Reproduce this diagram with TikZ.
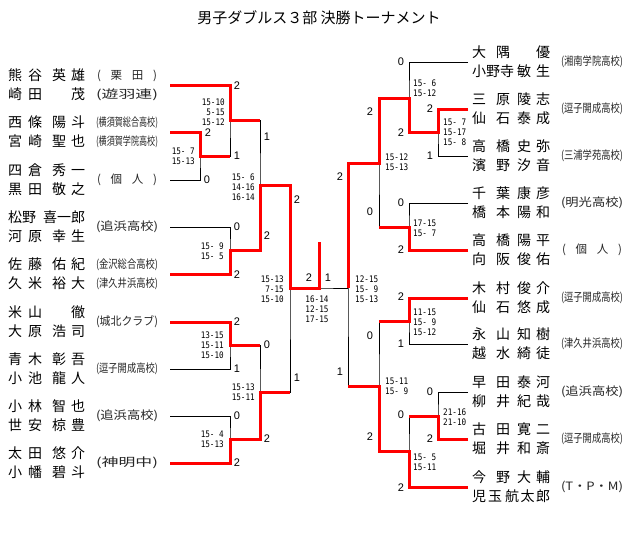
\documentclass[tikz,border=0pt]{standalone}
\usepackage{fontspec}
\usepackage{graphicx}
\newfontfamily\jp{Noto Sans CJK JP}
\newfontfamily\numf{Liberation Sans}
\newfontfamily\scf[FakeStretch=0.85]{DejaVu Sans Mono}
\newsavebox\affbox
\newcommand\nameL[2]{\makebox[34pt][s]{#1}\hspace{10pt}\makebox[33pt][s]{#2}}
\newcommand\nameR[2]{\makebox[38pt][s]{#1}\hspace{7pt}\makebox[33pt][s]{#2}}
\newcommand\affil[1]{\sbox\affbox{(#1)}\pgfmathsetmacro\affx{62/\the\wd\affbox}\scalebox{\affx}[1]{\usebox\affbox}}
\newcommand\affsp[1]{\makebox[60pt][s]{#1}}
\tikzset{
  win/.style={red, line width=3pt, line join=miter},
  lose/.style={black, line width=0.8pt},
  nm/.style={anchor=west, inner sep=0pt, font=\jp\fontsize{14}{14}\selectfont},
  af/.style={inner sep=0pt, text=black!85, font=\jp\fontsize{11.5}{12}\selectfont},
  rs/.style={inner sep=0pt, font=\numf\fontsize{11}{11}\selectfont},
  scL/.style={anchor=east, align=right, inner sep=0pt, font=\scf\fontsize{9}{10}\selectfont},
  scR/.style={anchor=west, align=left, inner sep=0pt, font=\scf\fontsize{9}{10}\selectfont},
  scC/.style={anchor=center, align=center, inner sep=0pt, font=\scf\fontsize{9}{10}\selectfont}
}
\begin{document}
\begin{tikzpicture}[x=1pt,y=-1pt]
\useasboundingbox[fill=white] (0,0) rectangle (640,541);
\node[inner sep=0pt, font=\jp\fontsize{15}{15}\selectfont] (title) at (319,18) {男子ダブルス３部 決勝トーナメント};

% ---------- coordinates ----------
\coordinate (tL1) at (170,85);  \coordinate (tL2) at (170,132); \coordinate (tL3) at (170,180);
\coordinate (tL4) at (170,227); \coordinate (tL5) at (170,274); \coordinate (tL6) at (170,322);
\coordinate (tL7) at (170,369); \coordinate (tL8) at (170,416); \coordinate (tL9) at (170,463);
\coordinate (m1) at (200,156); \coordinate (m2) at (230,120); \coordinate (m3) at (230,250);
\coordinate (m4) at (260,185); \coordinate (m5) at (230,345); \coordinate (m6) at (230,439);
\coordinate (m7) at (260,392); \coordinate (m8) at (290,288);
\coordinate (fin) at (319,288); \coordinate (champ) at (319,242);
\coordinate (tR1) at (468,62);  \coordinate (tR2) at (468,109); \coordinate (tR3) at (468,156);
\coordinate (tR4) at (468,203); \coordinate (tR5) at (468,250); \coordinate (tR6) at (468,298);
\coordinate (tR7) at (468,344); \coordinate (tR8) at (468,392); \coordinate (tR9) at (468,439);
\coordinate (tR10) at (468,487);
\coordinate (n1) at (438,132); \coordinate (n2) at (409,98); \coordinate (n3) at (409,227);
\coordinate (n4) at (379,163); \coordinate (n5) at (409,321); \coordinate (n6) at (438,416);
\coordinate (n7) at (409,451); \coordinate (n8) at (379,386); \coordinate (n9) at (348,288);

% ---------- skeleton ----------
\draw[lose] (tL2) -| (m1) |- (tL3);
\draw[lose] (m1) -| (m2) |- (tL1);
\draw[lose] (tL4) -| (m3) |- (tL5);
\draw[lose] (m2) -| (m4) |- (m3);
\draw[lose] (tL6) -| (m5) |- (tL7);
\draw[lose] (tL8) -| (m6) |- (tL9);
\draw[lose] (m5) -| (m7) |- (m6);
\draw[lose] (m4) -| (m8) |- (m7);
\draw[lose] (m8) -- (fin) -- (n9);
\draw[lose] (tR2) -| (n1) |- (tR3);
\draw[lose] (tR1) -| (n2) |- (n1);
\draw[lose] (tR4) -| (n3) |- (tR5);
\draw[lose] (n2) -| (n4) |- (n3);
\draw[lose] (tR6) -| (n5) |- (tR7);
\draw[lose] (tR8) -| (n6) |- (tR9);
\draw[lose] (n6) -| (n7) |- (tR10);
\draw[lose] (n5) -| (n8) |- (n7);
\draw[lose] (n4) -| (n9) |- (n8);

% ---------- winners ----------
\draw[win] (tL1) -| (m2) -- (m2 -| m4);
\draw[win] (tL2) -| (m1) -- (m1 -| m2);
\draw[win] (tL5) -| (m3) -- (m3 -| m4) -- (m4) -- (m4 -| m8) -- (m8) -- (fin) -- (champ);
\draw[win] (tL6) -| (m5) -- (m5 -| m7);
\draw[win] (tL9) -| (m6) -- (m6 -| m7) -- (m7) -- (m7 -| m8);
\draw[win] (tR2) -| (n1) -- (n1 -| n2) -- (n2) -- (n2 -| n4) -- (n4) -- (n4 -| n9) -- (n9);
\draw[win] (tR5) -| (n3) -- (n3 -| n4);
\draw[win] (tR6) -| (n5) -- (n5 -| n8);
\draw[win] (tR9) -| (n6) -- (n6 -| n7);
\draw[win] (tR10) -| (n7) -- (n7 -| n8) -- (n8) -- (n8 -| n9);

% ---------- left names ----------
\node[nm] (L1a) at (8,75.5) {\nameL{熊\hfill 谷}{英\hfill 雄}};
\node[nm] (L1b) at (8,94.5) {\nameL{崎\hfill 田}{\hfill 茂}};
\node[nm] (L2a) at (8,122.5) {\nameL{西\hfill 條}{陽\hfill 斗}};
\node[nm] (L2b) at (8,141.5) {\nameL{宮\hfill 崎}{聖\hfill 也}};
\node[nm] (L3a) at (8,170.5) {\nameL{四\hfill 倉}{秀\hfill 一}};
\node[nm] (L3b) at (8,189.5) {\nameL{黒\hfill 田}{敬\hfill 之}};
\node[nm] (L4a) at (8,217.5) {\makebox[27pt][s]{松\hfill 野}\hspace{8pt}\makebox[42pt][s]{喜\hfill 一\hfill 郎}};
\node[nm] (L4b) at (8,236.5) {\nameL{河\hfill 原}{幸\hfill 生}};
\node[nm] (L5a) at (8,264.5) {\nameL{佐\hfill 藤}{佑\hfill 紀}};
\node[nm] (L5b) at (8,283.5) {\nameL{久\hfill 米}{裕\hfill 大}};
\node[nm] (L6a) at (8,312.5) {\nameL{米\hfill 山}{\hfill 徹}};
\node[nm] (L6b) at (8,331.5) {\nameL{大\hfill 原}{浩\hfill 司}};
\node[nm] (L7a) at (8,359.5) {\nameL{青\hfill 木}{彰\hfill 吾}};
\node[nm] (L7b) at (8,378.5) {\nameL{小\hfill 池}{龍\hfill 人}};
\node[nm] (L8a) at (8,406.5) {\nameL{小\hfill 林}{智\hfill 也}};
\node[nm] (L8b) at (8,425.5) {\nameL{世\hfill 安}{椋\hfill 豊}};
\node[nm] (L9a) at (8,453.5) {\nameL{太\hfill 田}{悠\hfill 介}};
\node[nm] (L9b) at (8,472.5) {\nameL{小\hfill 幡}{碧\hfill 斗}};

% ---------- left affiliations ----------
\node[af] (A1a) at (127,75.5) {\affsp{(\hfill 栗\hfill 田\hfill )}};
\node[af] (A1b) at (127,94.5) {\affil{遊羽連}};
\node[af] (A2a) at (127,122.5) {\affil{横須賀総合高校}};
\node[af] (A2b) at (127,141.5) {\affil{横須賀学院高校}};
\node[af] (A3) at (127,180) {\affsp{(\hfill 個\hfill 人\hfill )}};
\node[af] (A4) at (127,227) {\affil{追浜高校}};
\node[af] (A5a) at (127,264.5) {\affil{金沢総合高校}};
\node[af] (A5b) at (127,283.5) {\affil{津久井浜高校}};
\node[af] (A6) at (127,322) {\affil{城北クラブ}};
\node[af] (A7) at (127,369) {\affil{逗子開成高校}};
\node[af] (A8) at (127,416) {\affil{追浜高校}};
\node[af] (A9) at (127,463) {\affil{神明中}};

% ---------- right names ----------
\node[nm] (R1a) at (472,52.5) {\nameR{大\hfill 隅}{\hfill 優}};
\node[nm] (R1b) at (472,71.5) {\makebox[45pt][l]{小野寺}\makebox[33pt][s]{敏\hfill 生}};
\node[nm] (R2a) at (472,99.5) {\nameR{三\hfill 原}{陵\hfill 志}};
\node[nm] (R2b) at (472,118.5) {\nameR{仙\hfill 石}{泰\hfill 成}};
\node[nm] (R3a) at (472,146.5) {\nameR{高\hfill 橋}{史\hfill 弥}};
\node[nm] (R3b) at (472,165.5) {\nameR{濱\hfill 野}{汐\hfill 音}};
\node[nm] (R4a) at (472,193.5) {\nameR{千\hfill 葉}{康\hfill 彦}};
\node[nm] (R4b) at (472,212.5) {\nameR{橋\hfill 本}{陽\hfill 和}};
\node[nm] (R5a) at (472,240.5) {\nameR{高\hfill 橋}{陽\hfill 平}};
\node[nm] (R5b) at (472,259.5) {\nameR{向\hfill 阪}{俊\hfill 佑}};
\node[nm] (R6a) at (472,288.5) {\nameR{木\hfill 村}{俊\hfill 介}};
\node[nm] (R6b) at (472,307.5) {\nameR{仙\hfill 石}{悠\hfill 成}};
\node[nm] (R7a) at (472,334.5) {\nameR{永\hfill 山}{知\hfill 樹}};
\node[nm] (R7b) at (472,353.5) {\nameR{越\hfill 水}{綺\hfill 徒}};
\node[nm] (R8a) at (472,382.5) {\nameR{早\hfill 田}{泰\hfill 河}};
\node[nm] (R8b) at (472,401.5) {\nameR{柳\hfill 井}{紀\hfill 哉}};
\node[nm] (R9a) at (472,429.5) {\nameR{古\hfill 田}{寛\hfill 二}};
\node[nm] (R9b) at (472,448.5) {\nameR{堀\hfill 井}{和\hfill 斎}};
\node[nm] (R10a) at (472,477.5) {\nameR{今\hfill 野}{大\hfill 輔}};
\node[nm] (R10b) at (472,496.5) {\makebox[30pt][s]{児\hfill 玉}\hspace{3pt}\makebox[45pt][s]{航\hfill 太\hfill 郎}};

% ---------- right affiliations ----------
\node[af] (B1) at (592,62) {\affil{湘南学院高校}};
\node[af] (B2) at (592,109) {\affil{逗子開成高校}};
\node[af] (B3) at (592,156) {\affil{三浦学苑高校}};
\node[af] (B4) at (592,203) {\affil{明光高校}};
\node[af] (B5) at (592,250) {\affsp{(\hfill 個\hfill 人\hfill )}};
\node[af] (B6) at (592,298) {\affil{逗子開成高校}};
\node[af] (B7) at (592,344) {\affil{津久井浜高校}};
\node[af] (B8) at (592,392) {\affil{追浜高校}};
\node[af] (B9) at (592,439) {\affil{逗子開成高校}};
\node[af] (B10) at (592,487) {\affil{T・P・M}};

% ---------- scores ----------
\node[scL] (s1) at (225,112) {15-10\\5-15\\15-12};
\node[scL] (s2) at (195,156) {15- 7\\15-13};
\node[scL] (s3) at (255,187) {15- 6\\14-16\\16-14};
\node[scL] (s4) at (224,251) {15- 9\\15- 5};
\node[scL] (s5) at (284,289) {15-13\\7-15\\15-10};
\node[scL] (s6) at (224,345) {13-15\\15-11\\15-10};
\node[scL] (s7) at (255,392) {15-13\\15-11};
\node[scL] (s8) at (224,439) {15- 4\\15-13};
\node[scC] (s9) at (317,309) {16-14\\12-15\\17-15};
\node[scR] (r1) at (413,88) {15- 6\\15-12};
\node[scR] (r2) at (443,132) {15- 7\\15-17\\15- 8};
\node[scR] (r3) at (385,162) {15-12\\15-13};
\node[scR] (r4) at (355,289) {12-15\\15- 9\\15-13};
\node[scR] (r5) at (413,228) {17-15\\15- 7};
\node[scR] (r6) at (413,322) {11-15\\15- 9\\15-12};
\node[scR] (r7) at (385,386) {15-11\\15- 9};
\node[scR] (r8) at (443,417) {21-16\\21-10};
\node[scR] (r9) at (413,462) {15- 5\\15-11};

% ---------- game counts ----------
\foreach \px/\py/\t [count=\i] in {
  237/86/2, 208/133/2, 237/156/1, 207/180/0, 267/137/1, 237/227/0, 237/275/2, 267/236/2,
  297/200/2, 297/378/1, 237/322/2, 237/369/1, 267/345/0, 267/439/2, 237/416/0, 237/463/2,
  309/278/2, 328/278/1,
  401/62/0, 370/112/2, 401/133/2, 430/109/2, 430/156/1, 340/177/2, 401/203/0, 370/212/0,
  401/250/2, 401/297/2, 401/344/1, 370/336/0, 340/372/1, 370/437/2, 401/415/0, 430/392/0,
  430/439/2, 401/488/2}
  \node[rs, name=g\i] at (\px,\py) {\t};
\end{tikzpicture}
\end{document}
